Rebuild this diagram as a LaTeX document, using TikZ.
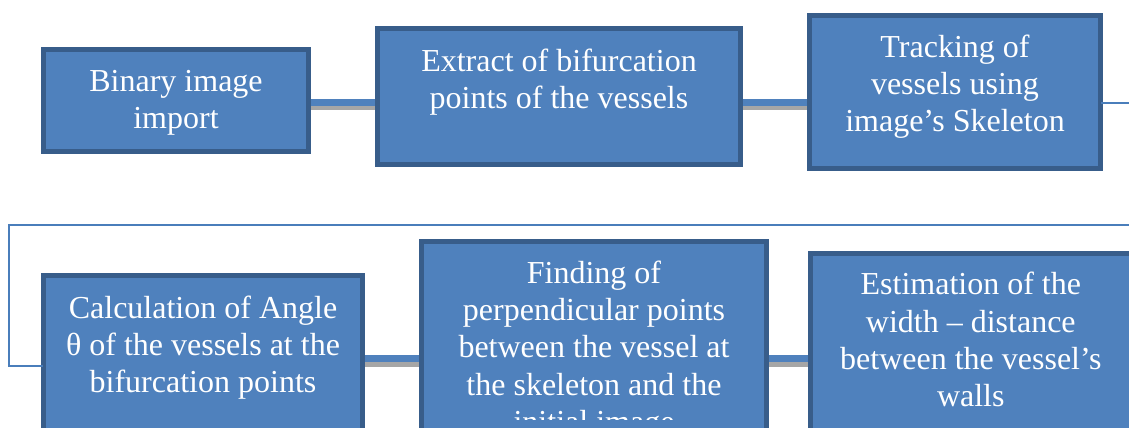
\documentclass[tikz,border=0pt]{standalone}
\usepackage{fontspec}
\setmainfont{Liberation Serif}
\definecolor{boxfill}{HTML}{4F81BD}
\definecolor{boxedge}{HTML}{385D8A}
\definecolor{shadowgray}{HTML}{A6A6A6}
\definecolor{linkblue}{HTML}{4A7EBB}
\begin{document}
\begin{tikzpicture}[x=1pt,y=-1pt,
  stepbox/.style={draw=boxedge,fill=boxfill,line width=5pt,rectangle,inner sep=0pt},
  steptext/.style={text=white,align=center,inner sep=0pt,font=\fontsize{32}{37.2}\selectfont},
  barshadow/.style={draw=shadowgray,line width=7pt},
  bar/.style={draw=boxfill,line width=7pt},
  thinlink/.style={draw=linkblue,line width=2pt}]
\useasboundingbox (0,0) rectangle (1129,428);
\clip (0,0) rectangle (1129,428);
% boxes
\node[stepbox,minimum width=265pt,minimum height=102pt] (b1) at (176,100.5) {};
\node[stepbox,minimum width=363pt,minimum height=136pt] (b2) at (559,96.5) {};
\node[stepbox,minimum width=291pt,minimum height=153pt] (b3) at (955,92) {};
\node[stepbox,minimum width=319pt,minimum height=170pt] (b4) at (203,360.5) {};
\node[stepbox,minimum width=345pt,minimum height=190pt] (b5) at (594,336.5) {};
\node[stepbox,minimum width=322pt,minimum height=180pt] (b6) at (971.5,343.5) {};
% texts
\node[steptext] (t1) at (176,103) {Binary image\\import};
\node[steptext] (t2) at (559,82) {Extract of bifurcation\\points of the vessels};
\node[steptext] (t3) at (955,86.5) {Tracking of\\vessels using\\image’s Skeleton};
\node[steptext] (t4) at (203,347.5) {Calculation of Angle\\θ of the vessels at the\\bifurcation points};
\begin{scope}
\clip (0,0) rectangle (1129,419);
\node[steptext] (t5) at (594,350) {Finding of\\perpendicular points\\between the vessel at\\the skeleton and the\\initial image};
\end{scope}
\node[steptext] (t6) at (970.8,339.5) {Estimation of the\\width – distance\\between the vessel’s\\walls};
% connectors top row
\coordinate (rowA) at (0,102.5);
\coordinate (rowB) at (0,358);
\draw[barshadow] ([yshift=-4pt]b1.east |- rowA) -- ([yshift=-4pt]b2.west |- rowA);
\draw[bar] (b1.east |- rowA) -- (b2.west |- rowA);
\draw[barshadow] ([yshift=-4pt]b2.east |- rowA) -- ([yshift=-4pt]b3.west |- rowA);
\draw[bar] (b2.east |- rowA) -- (b3.west |- rowA);
% connectors bottom row
\draw[barshadow] ([yshift=-5pt]b4.east |- rowB) -- ([yshift=-5pt]b5.west |- rowB);
\draw[bar] (b4.east |- rowB) -- (b5.west |- rowB);
\draw[barshadow] ([yshift=-5pt]b5.east |- rowB) -- ([yshift=-5pt]b6.west |- rowB);
\draw[bar] (b5.east |- rowB) -- (b6.west |- rowB);
% wrap-around link
\coordinate (w1) at (1140,102.7);
\coordinate (w2) at (1140,225);
\coordinate (w3) at (8.5,225);
\coordinate (w4) at (8.5,366);
\draw[thinlink] ([xshift=-2pt]b3.east |- w1) -- (w1) -- (w2) -- (w3) -- (w4) -- ([xshift=2pt]b4.west |- w4);
\end{tikzpicture}
\end{document}
